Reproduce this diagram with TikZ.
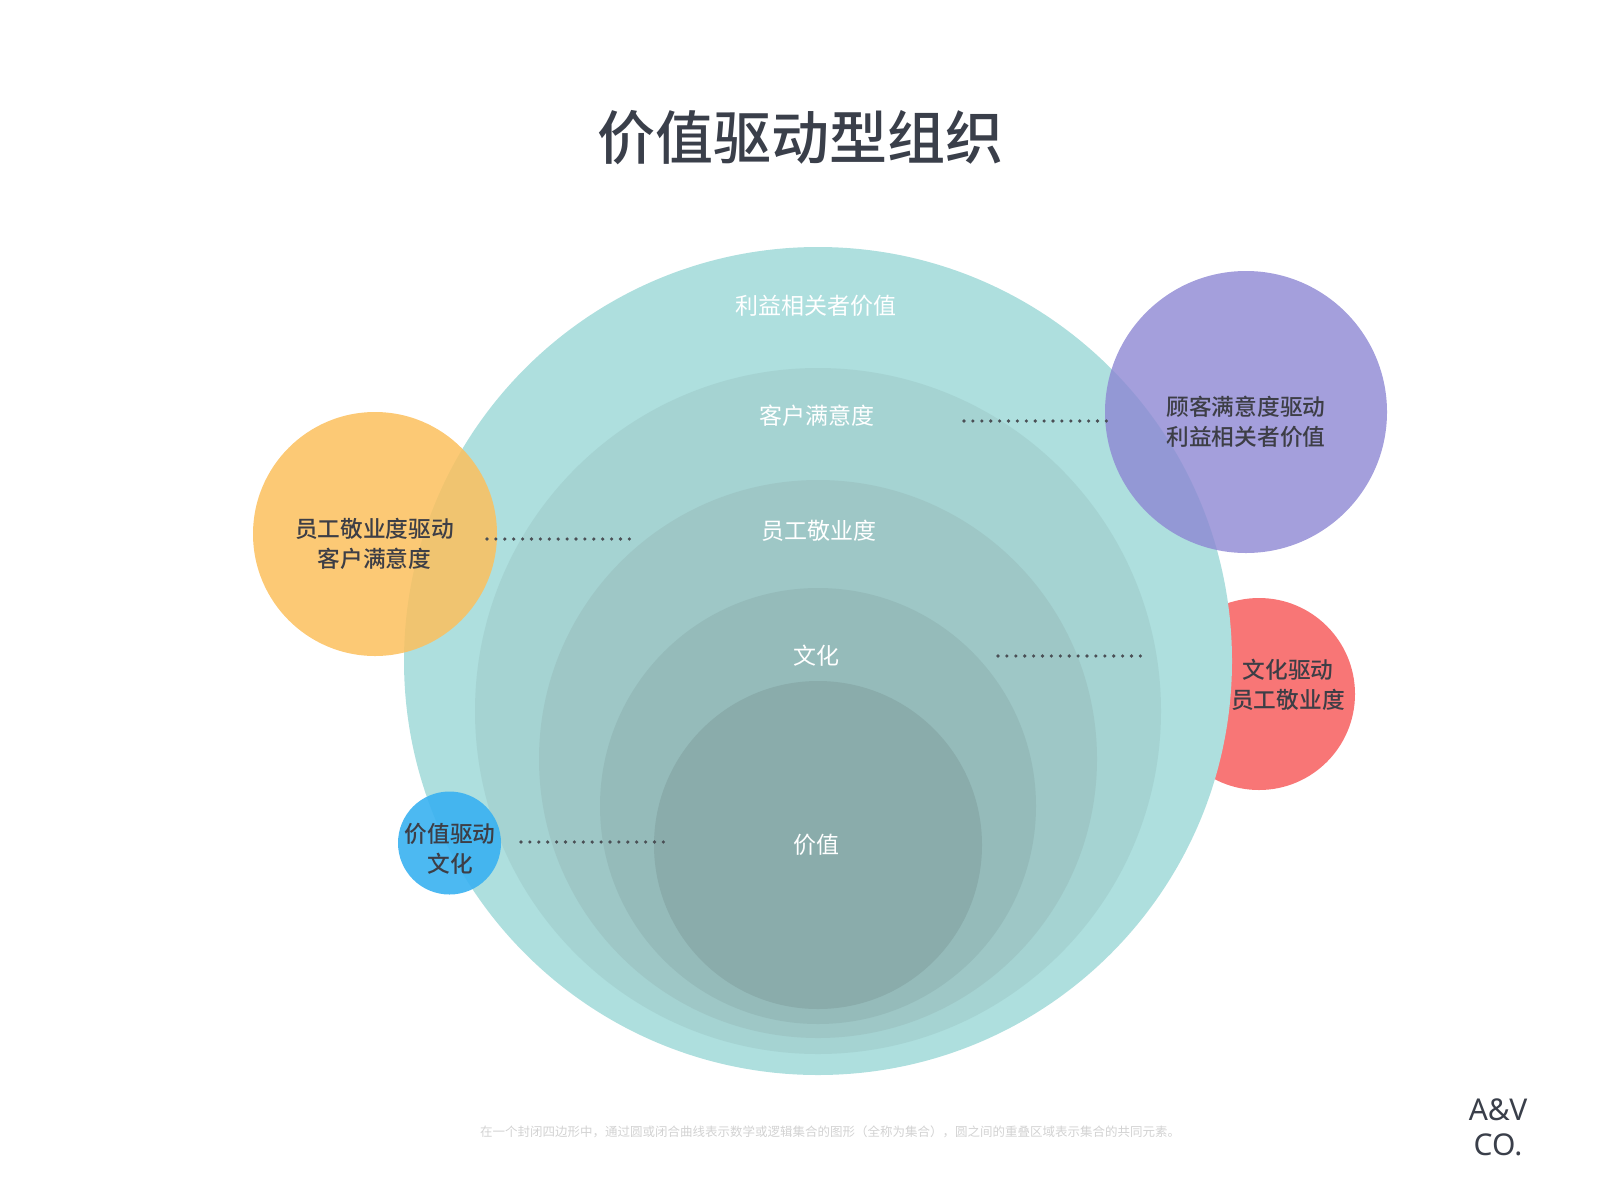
\documentclass[tikz,border=0pt]{standalone}
\usepackage{fontspec}
\setmainfont{Noto Sans CJK SC}
\newfontfamily\medfont{Noto Sans CJK SC}[UprightFont=* Medium]
\newfontfamily\logofont{Noto Sans}
\definecolor{titlec}{HTML}{3A3F4A}
\definecolor{sidetext}{HTML}{3D3E46}
\definecolor{tealA}{HTML}{AEDFDE}
\definecolor{tealB}{HTML}{A5D3D2}
\definecolor{tealC}{HTML}{9EC7C6}
\definecolor{tealD}{HTML}{95BBBA}
\definecolor{tealE}{HTML}{8AACAB}
\definecolor{orangec}{HTML}{FCC05D}
\definecolor{purplec}{HTML}{8D87D3}
\definecolor{redc}{HTML}{F87676}
\definecolor{bluec}{HTML}{39B1F1}
\definecolor{dotc}{HTML}{4A4F55}
\definecolor{footc}{HTML}{D2D2D2}
\begin{document}
\begin{tikzpicture}[x=1pt,y=-1pt,
  ring/.style={circle,inner sep=0pt,draw=none},
  inlabel/.style={text=white,font=\fontsize{23}{28}\selectfont},
  sidelabel/.style={text=sidetext,align=center,font=\medfont\fontsize{22.7}{30.5}\selectfont},
  dotline/.style={draw=dotc,line width=3.6pt,line cap=round,dash pattern=on 0pt off 8.9pt}]
\useasboundingbox (0,0) rectangle (1600,1200);
% red circle behind the big circle
\node[ring,fill=redc,minimum size=192pt] (red) at (1259,694) {};
% concentric circles
\node[ring,fill=tealA,minimum size=828pt] (c1) at (818,661) {};
\node[ring,fill=tealB,minimum size=686pt] (c2) at (818,711) {};
\node[ring,fill=tealC,minimum size=558pt] (c3) at (818,759) {};
\node[ring,fill=tealD,minimum size=436pt] (c4) at (818,806) {};
\node[ring,fill=tealE,minimum size=328pt] (c5) at (818,845) {};
% side circles
\node[ring,fill=orangec,fill opacity=0.85,minimum size=244pt] (orange) at (375,534) {};
\node[ring,fill=purplec,fill opacity=0.8,minimum size=282pt] (purple) at (1246,412) {};
\node[ring,fill=bluec,fill opacity=0.9,minimum size=103pt] (blue) at (449.5,843) {};
% title
\node[text=titlec,font=\medfont\fontsize{58}{64}\selectfont] (title) at (800,138) {价值驱动型组织};
% inner labels
\node[inlabel] (l1) at (816,306) {利益相关者价值};
\node[inlabel] (l2) at (817,416) {客户满意度};
\node[inlabel] (l3) at (819,531) {员工敬业度};
\node[inlabel] (l4) at (816,656) {文化};
\node[inlabel] (l5) at (816,845) {价值};
% side labels
\node[sidelabel] (so) at (374.5,544) {员工敬业度驱动\\客户满意度};
\node[sidelabel] (sp) at (1246,422) {顾客满意度驱动\\利益相关者价值};
\node[sidelabel] (sr) at (1288,685) {文化驱动\\员工敬业度};
\node[sidelabel] (sb) at (450,849) {价值驱动\\文化};
% dotted connectors
\coordinate (d1a) at (964,421); \coordinate (d1b) at (1107,421);
\coordinate (d2a) at (487,539); \coordinate (d2b) at (630,539);
\coordinate (d3a) at (998,656); \coordinate (d3b) at (1141,656);
\coordinate (d4a) at (521,842); \coordinate (d4b) at (664,842);
\draw[dotline] (d1a) -- (d1b);
\draw[dotline] (d2a) -- (d2b);
\draw[dotline] (d3a) -- (d3b);
\draw[dotline] (d4a) -- (d4b);
% footer
\node[text=footc,font=\fontsize{12.5}{14}\selectfont] (foot) at (830,1132) {在一个封闭四边形中，通过圆或闭合曲线表示数学或逻辑集合的图形（全称为集合），圆之间的重叠区域表示集合的共同元素。};
% logo
\node[text=titlec,align=center,font=\logofont\fontsize{30}{35}\selectfont] (logo) at (1498,1127) {A\&V\\CO.};
\end{tikzpicture}
\end{document}
